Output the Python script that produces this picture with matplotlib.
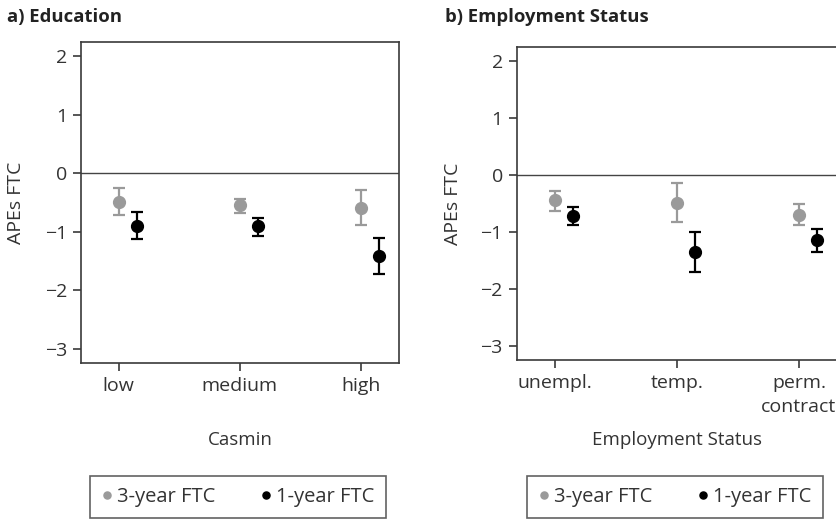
import matplotlib.pyplot as plt

plt.rcParams['font.family'] = ['Open Sans', 'DejaVu Sans']

# panel a) education
edu_cats = ['low', 'medium', 'high']
edu_3y = [-0.49, -0.55, -0.60]
edu_3y_lo = [-0.71, -0.68, -0.89]
edu_3y_hi = [-0.26, -0.44, -0.29]
edu_1y = [-0.90, -0.91, -1.42]
edu_1y_lo = [-1.13, -1.07, -1.73]
edu_1y_hi = [-0.66, -0.76, -1.11]

# panel b) employment status
emp_cats = ['unempl.', 'temp.', 'perm.\ncontract']
emp_3y = [-0.44, -0.49, -0.69]
emp_3y_lo = [-0.62, -0.83, -0.88]
emp_3y_hi = [-0.27, -0.14, -0.50]
emp_1y = [-0.72, -1.34, -1.14]
emp_1y_lo = [-0.87, -1.70, -1.34]
emp_1y_hi = [-0.55, -0.99, -0.95]

GRAY = '#9a9a9a'
SPINE = '#3a3a3a'
TXT = '#333333'


def panel(ax, cats, v3, lo3, hi3, v1, lo1, hi1, xlabel, ylab_x, xlab_y):
    x = list(range(1, len(cats) + 1))
    x1 = [i + 0.15 for i in x]
    ax.axhline(0, color='#444444', lw=1.0, zorder=1)
    err3 = [[v - l for v, l in zip(v3, lo3)], [h - v for v, h in zip(v3, hi3)]]
    err1 = [[v - l for v, l in zip(v1, lo1)], [h - v for v, h in zip(v1, hi1)]]
    ax.errorbar(x, v3, yerr=err3, fmt='none', ecolor=GRAY, elinewidth=1.6,
                capsize=4, capthick=1.6)
    ax.errorbar(x1, v1, yerr=err1, fmt='none', ecolor='black', elinewidth=1.6,
                capsize=4, capthick=1.6)
    ax.plot(x, v3, 'o', color=GRAY, ms=8.5, label='3-year FTC', zorder=3)
    ax.plot(x1, v1, 'o', color='black', ms=8.5, label='1-year FTC', zorder=3)
    ax.set_xlim(0.69, 3.31)
    ax.set_ylim(-3.25, 2.25)
    ax.set_yticks([2, 1, 0, -1, -2, -3])
    ax.set_yticklabels(['2', '1', '0', '\u22121', '\u22122', '\u22123'])
    ax.set_xticks(x)
    ax.set_xticklabels(cats)
    for s in ax.spines.values():
        s.set_color(SPINE)
        s.set_linewidth(1.2)
    ax.tick_params(direction='out', length=6, width=1.2, color=SPINE,
                   labelsize=14, labelcolor=TXT, pad=4)
    for lab in ax.get_xticklabels():
        lab.set_linespacing(1.45)
    ax.set_ylabel('APEs FTC', fontsize=14, color=TXT)
    ax.yaxis.set_label_coords(ylab_x, 0.5)
    ax.yaxis.label.set_va('center')
    ax.set_xlabel(xlabel, fontsize=13.5, color=TXT)
    ax.xaxis.set_label_coords(0.5, xlab_y)
    ax.xaxis.label.set_va('center')


fig = plt.figure(figsize=(8.36, 5.19), dpi=100)
ax1 = fig.add_axes([0.097, 0.300, 0.380, 0.620])
ax2 = fig.add_axes([0.618, 0.306, 0.383, 0.603])

panel(ax1, edu_cats, edu_3y, edu_3y_lo, edu_3y_hi, edu_1y, edu_1y_lo, edu_1y_hi,
      'Casmin', -0.204, -0.239)
panel(ax2, emp_cats, emp_3y, emp_3y_lo, emp_3y_hi, emp_1y, emp_1y_lo, emp_1y_hi,
      'Employment Status', -0.200, -0.256)

fig.text(7 / 836, 1 - 17 / 519, 'a) Education', fontsize=13.3,
         fontweight='bold', ha='left', va='center', color='#222222')
fig.text(445 / 836, 1 - 17 / 519, 'b) Employment Status', fontsize=13.3,
         fontweight='bold', ha='left', va='center', color='#222222')

for ax, cx in [(ax1, 238 / 836), (ax2, 675 / 836)]:
    h, l = ax.get_legend_handles_labels()
    leg = fig.legend(h, l, loc='center', bbox_to_anchor=(cx, 1 - 497 / 519),
                     ncol=2, fontsize=14.5, frameon=True, fancybox=False,
                     markerscale=0.6, handlelength=0.55, handletextpad=0.25,
                     columnspacing=2.2, borderpad=0.55)
    leg.get_frame().set_edgecolor(SPINE)
    leg.get_frame().set_linewidth(1.2)
    for t in leg.get_texts():
        t.set_color(TXT)

fig.savefig('out.png', dpi=100)
